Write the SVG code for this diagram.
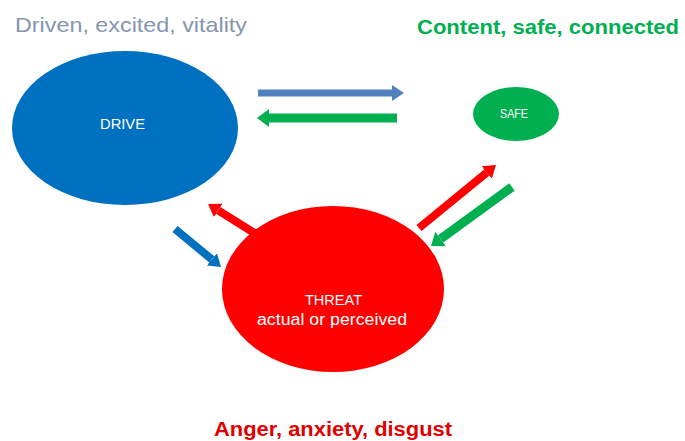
<svg xmlns="http://www.w3.org/2000/svg" width="685" height="441" viewBox="0 0 685 441">
  <style>
    text { font-family: "Liberation Sans", Arial, sans-serif; }
    .node-label { fill: #ffffff; text-anchor: middle; }
    .shaft { fill: none; stroke-linecap: butt; }
  </style>
  <defs>
    <marker id="head-lblue" markerUnits="userSpaceOnUse" markerWidth="12" markerHeight="16" refX="0" refY="8" orient="auto"><path d="M0,0 L12,8 L0,16 z" fill="#4f81bd"/></marker>
    <marker id="head-blue" markerUnits="userSpaceOnUse" markerWidth="12" markerHeight="16" refX="0" refY="8" orient="auto"><path d="M0,0 L12,8 L0,16 z" fill="#0070c0"/></marker>
    <marker id="head-green" markerUnits="userSpaceOnUse" markerWidth="12" markerHeight="18" refX="0" refY="9" orient="auto"><path d="M0,0 L12,9 L0,18 z" fill="#00b050"/></marker>
    <marker id="head-red" markerUnits="userSpaceOnUse" markerWidth="12" markerHeight="16" refX="0" refY="8" orient="auto"><path d="M0,0 L12,8 L0,16 z" fill="#ff0000"/></marker>
  </defs>
  <rect width="685" height="441" fill="#ffffff"/>

  <text x="15" y="32" font-size="21" fill="#8496b0" textLength="232" lengthAdjust="spacingAndGlyphs">Driven, excited, vitality</text>
  <text x="417" y="34" font-size="20" font-weight="bold" fill="#00b050" textLength="262" lengthAdjust="spacingAndGlyphs">Content, safe, connected</text>
  <text x="214" y="436" font-size="20" font-weight="bold" fill="#e00000" textLength="238" lengthAdjust="spacingAndGlyphs">Anger, anxiety, disgust</text>

  <g id="drive">
    <ellipse cx="125" cy="128" rx="113" ry="77" fill="#0070c0"/>
    <text class="node-label" x="122.5" y="129" font-size="15" textLength="45" lengthAdjust="spacingAndGlyphs">DRIVE</text>
  </g>
  <g id="safe">
    <ellipse cx="516" cy="114" rx="43" ry="27" fill="#00b050"/>
    <text class="node-label" x="514" y="118" font-size="13" textLength="28" lengthAdjust="spacingAndGlyphs">SAFE</text>
  </g>
  <g id="threat">
    <ellipse cx="333" cy="289" rx="111" ry="83" fill="#ff0000"/>
    <text class="node-label" x="333.5" y="305" font-size="15" textLength="57" lengthAdjust="spacingAndGlyphs">THREAT</text>
    <text class="node-label" x="332" y="325" font-size="16" textLength="150" lengthAdjust="spacingAndGlyphs">actual or perceived</text>
  </g>

  <g id="connectors">
    <line class="shaft" x1="258" y1="93" x2="392" y2="93" stroke="#4f81bd" stroke-width="7" marker-end="url(#head-lblue)"/>
    <line class="shaft" x1="397" y1="118" x2="269" y2="118" stroke="#00b050" stroke-width="9" marker-end="url(#head-green)"/>
    <line class="shaft" x1="175" y1="229" x2="211.8" y2="259.4" stroke="#0070c0" stroke-width="8" marker-end="url(#head-blue)"/>
    <line class="shaft" x1="256" y1="234" x2="218.2" y2="210.4" stroke="#ff0000" stroke-width="8" marker-end="url(#head-red)"/>
    <line class="shaft" x1="419" y1="228" x2="486.7" y2="172.6" stroke="#ff0000" stroke-width="8" marker-end="url(#head-red)"/>
    <line class="shaft" x1="512" y1="187" x2="440.7" y2="238.9" stroke="#00b050" stroke-width="9" marker-end="url(#head-green)"/>
  </g>
</svg>
